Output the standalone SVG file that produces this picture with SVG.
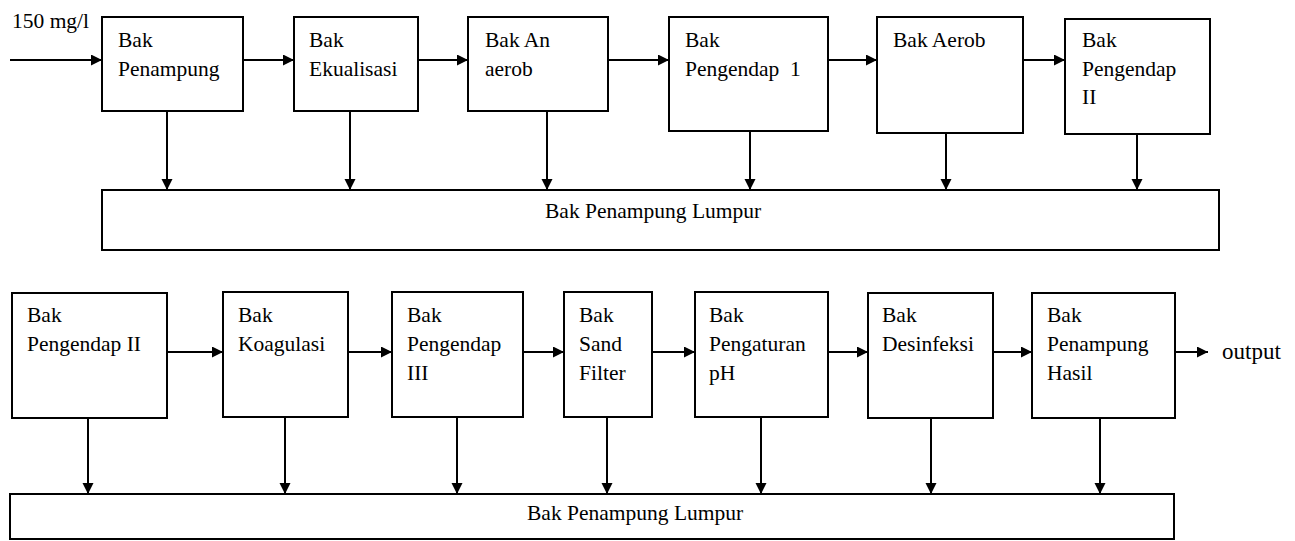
<svg xmlns="http://www.w3.org/2000/svg" width="1295" height="541" viewBox="0 0 1295 541">
<style>
  .box { fill: #fff; stroke: #000; stroke-width: 2; }
  .lbl { font-family: 'Liberation Serif', 'DejaVu Serif', 'Times New Roman', Times, serif; font-size: 21.5px; fill: #000; white-space: pre; }
  .con line { stroke: #000; stroke-width: 2; }
</style>
<defs>
  <marker id="arr" markerUnits="userSpaceOnUse" markerWidth="12" markerHeight="12" refX="11" refY="5.5" orient="auto">
    <path d="M0,0 L11,5.5 L0,11 z" fill="#000"/>
  </marker>
</defs>
<rect width="1295" height="541" fill="#fff"/>

<g font-family="Liberation Serif, DejaVu Serif, serif">
<!-- top row nodes -->
<g id="t1"><rect class="box" x="102" y="17" width="141" height="94"/><text class="lbl" x="118" y="47">Bak</text><text class="lbl" x="118" y="76">Penampung</text></g>
<g id="t2"><rect class="box" x="294" y="17" width="124" height="94"/><text class="lbl" x="309" y="47">Bak</text><text class="lbl" x="309" y="76">Ekualisasi</text></g>
<g id="t3"><rect class="box" x="468" y="17" width="140" height="94"/><text class="lbl" x="485" y="47">Bak An</text><text class="lbl" x="485" y="76">aerob</text></g>
<g id="t4"><rect class="box" x="669" y="17" width="159" height="114"/><text class="lbl" x="685" y="47">Bak</text><text class="lbl" x="685" y="76">Pengendap  1</text></g>
<g id="t5"><rect class="box" x="877" y="17" width="146" height="116"/><text class="lbl" x="893" y="47">Bak Aerob</text></g>
<g id="t6"><rect class="box" x="1065" y="19" width="145" height="115"/><text class="lbl" x="1082" y="47">Bak</text><text class="lbl" x="1082" y="76">Pengendap</text><text class="lbl" x="1082" y="104">II</text></g>
<g id="sludge1"><rect class="box" x="102" y="190" width="1117" height="60"/><text class="lbl" x="545" y="218">Bak Penampung Lumpur</text></g>
<g id="in"><text class="lbl" x="12" y="28">150 mg/l</text></g>

<!-- bottom row nodes -->
<g id="b1"><rect class="box" x="12" y="293" width="155" height="125"/><text class="lbl" x="27" y="322">Bak</text><text class="lbl" x="27" y="351">Pengendap II</text></g>
<g id="b2"><rect class="box" x="223" y="292" width="125" height="125"/><text class="lbl" x="238" y="322">Bak</text><text class="lbl" x="238" y="351">Koagulasi</text></g>
<g id="b3"><rect class="box" x="392" y="292" width="131" height="125"/><text class="lbl" x="407" y="322">Bak</text><text class="lbl" x="407" y="351">Pengendap</text><text class="lbl" x="407" y="380">III</text></g>
<g id="b4"><rect class="box" x="564" y="292" width="88" height="125"/><text class="lbl" x="579" y="322">Bak</text><text class="lbl" x="579" y="351">Sand</text><text class="lbl" x="579" y="380">Filter</text></g>
<g id="b5"><rect class="box" x="695" y="292" width="133" height="125"/><text class="lbl" x="709" y="322">Bak</text><text class="lbl" x="709" y="351">Pengaturan</text><text class="lbl" x="709" y="380">pH</text></g>
<g id="b6"><rect class="box" x="868" y="293" width="125" height="125"/><text class="lbl" x="882" y="322">Bak</text><text class="lbl" x="882" y="351">Desinfeksi</text></g>
<g id="b7"><rect class="box" x="1032" y="293" width="143" height="125"/><text class="lbl" x="1047" y="322">Bak</text><text class="lbl" x="1047" y="351">Penampung</text><text class="lbl" x="1047" y="380">Hasil</text></g>
<g id="sludge2"><rect class="box" x="10" y="494" width="1164" height="45"/><text class="lbl" x="527" y="520">Bak Penampung Lumpur</text></g>
<g id="out"><text class="lbl" x="1222" y="359" style="font-size:23px">output</text></g>
</g>

<!-- connectors -->
<g class="con">
  <line x1="10" y1="60" x2="102" y2="60" marker-end="url(#arr)"/>
  <line x1="243" y1="60" x2="294" y2="60" marker-end="url(#arr)"/>
  <line x1="418" y1="60" x2="468" y2="60" marker-end="url(#arr)"/>
  <line x1="608" y1="60" x2="669" y2="60" marker-end="url(#arr)"/>
  <line x1="828" y1="60" x2="877" y2="60" marker-end="url(#arr)"/>
  <line x1="1023" y1="60" x2="1065" y2="60" marker-end="url(#arr)"/>

  <line x1="167" y1="111" x2="167" y2="190" marker-end="url(#arr)"/>
  <line x1="350" y1="111" x2="350" y2="190" marker-end="url(#arr)"/>
  <line x1="547" y1="111" x2="547" y2="190" marker-end="url(#arr)"/>
  <line x1="750" y1="131" x2="750" y2="190" marker-end="url(#arr)"/>
  <line x1="946" y1="133" x2="946" y2="190" marker-end="url(#arr)"/>
  <line x1="1137" y1="134" x2="1137" y2="190" marker-end="url(#arr)"/>

  <line x1="167" y1="352" x2="223" y2="352" marker-end="url(#arr)"/>
  <line x1="348" y1="352" x2="392" y2="352" marker-end="url(#arr)"/>
  <line x1="523" y1="352" x2="564" y2="352" marker-end="url(#arr)"/>
  <line x1="652" y1="352" x2="695" y2="352" marker-end="url(#arr)"/>
  <line x1="828" y1="352" x2="868" y2="352" marker-end="url(#arr)"/>
  <line x1="993" y1="352" x2="1032" y2="352" marker-end="url(#arr)"/>
  <line x1="1175" y1="352" x2="1208" y2="352" marker-end="url(#arr)"/>

  <line x1="88" y1="418" x2="88" y2="494" marker-end="url(#arr)"/>
  <line x1="285" y1="417" x2="285" y2="494" marker-end="url(#arr)"/>
  <line x1="457" y1="417" x2="457" y2="494" marker-end="url(#arr)"/>
  <line x1="607" y1="417" x2="607" y2="494" marker-end="url(#arr)"/>
  <line x1="761" y1="417" x2="761" y2="494" marker-end="url(#arr)"/>
  <line x1="931" y1="418" x2="931" y2="494" marker-end="url(#arr)"/>
  <line x1="1100" y1="418" x2="1100" y2="494" marker-end="url(#arr)"/>
</g>
</svg>
